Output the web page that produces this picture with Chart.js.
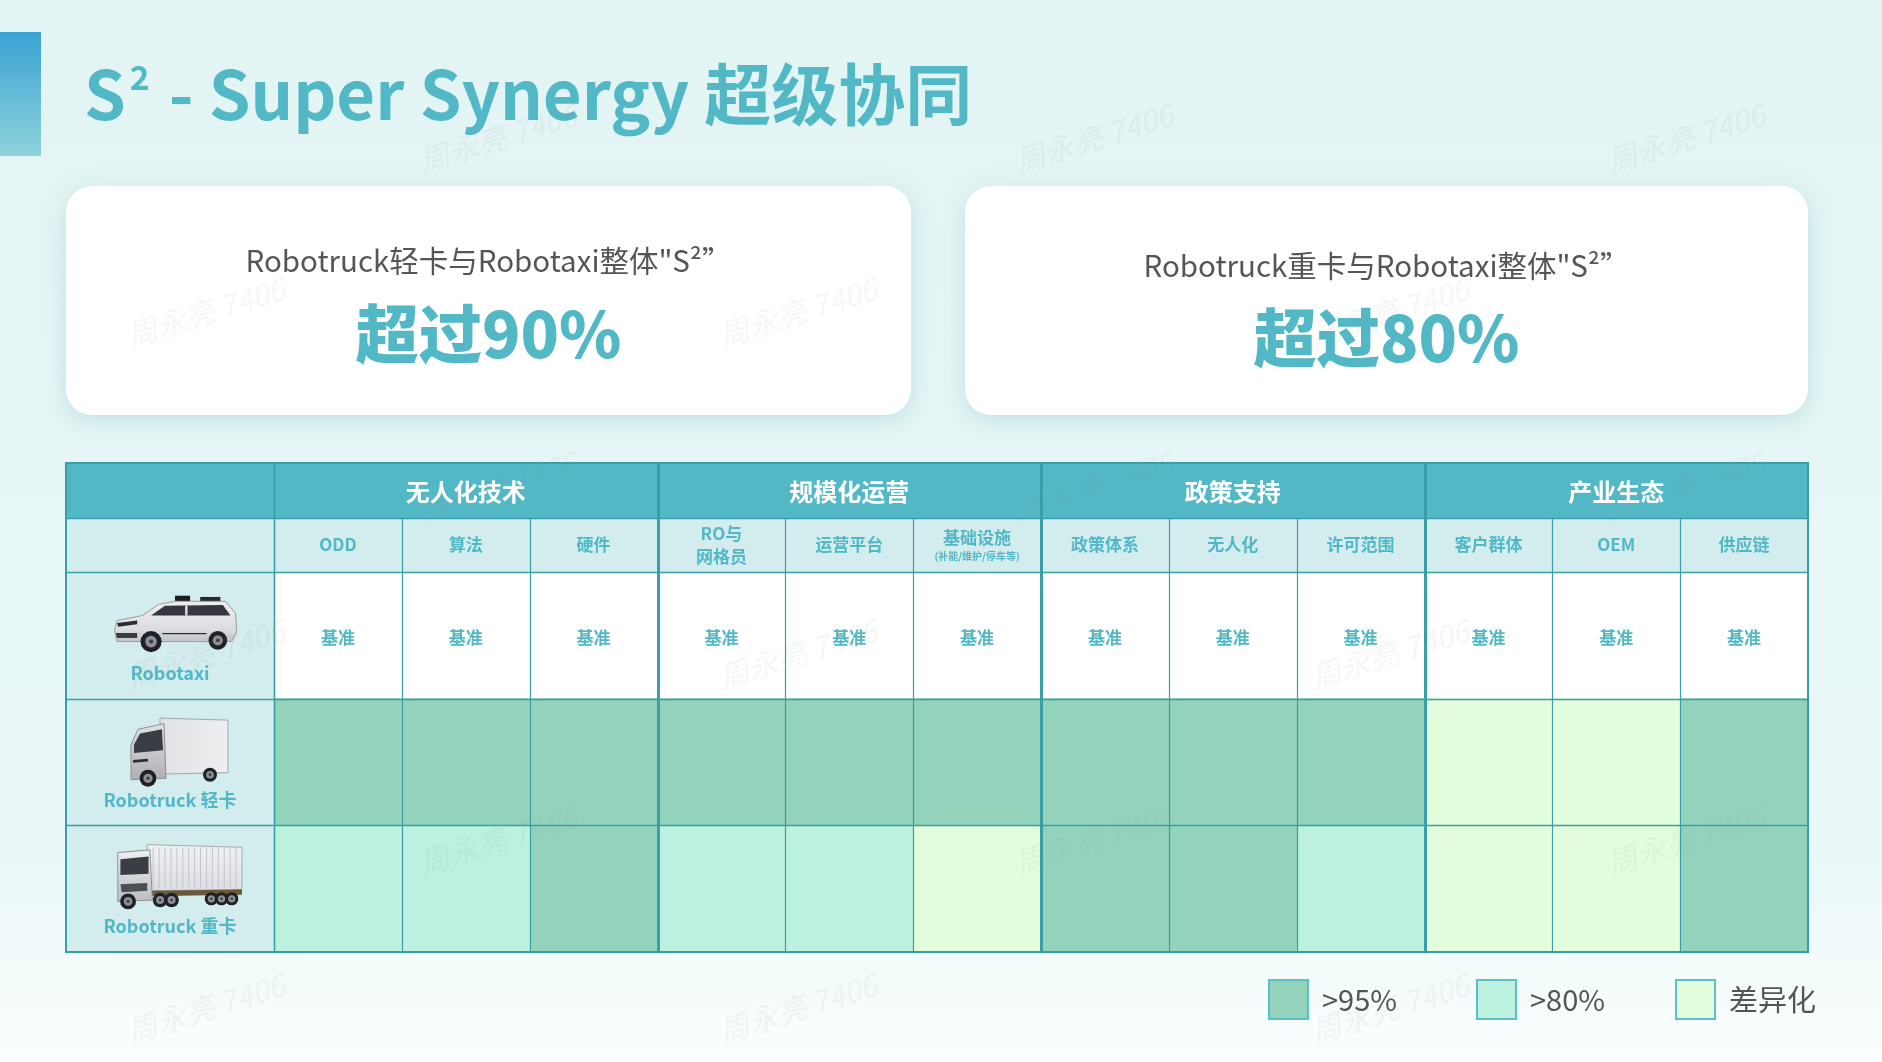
<!DOCTYPE html>
<html>
<head>
<meta charset="utf-8">
<script src="https://cdn.jsdelivr.net/npm/chart.js@4.4.1/dist/chart.umd.min.js"></script>
<style>
  html, body { margin: 0; padding: 0; overflow: hidden; background: #ffffff; }
  canvas { display: block; }
</style>
</head>
<body>
<canvas id="synergyChart" width="1882" height="1062"></canvas>

<script>
  // dados do quadro
  var vehicles = ['Robotaxi', 'Robotruck 轻卡', 'Robotruck 重卡'];
  var groups = ['无人化技术', '规模化运营', '政策支持', '产业生态'];
  var columns = ['ODD', '算法', '硬件', 'RO与|网格员', '运营平台', '基础设施', '政策体系', '无人化', '许可范围', '客户群体', 'OEM', '供应链'];
  var columnNotes = ['', '', '', '', '', '(补能/维护/停车等)', '', '', '', '', '', ''];
  var robotaxiLevels = ['基准', '基准', '基准', '基准', '基准', '基准', '基准', '基准', '基准', '基准', '基准', '基准'];
  var lightTruckLevels = ['>95%', '>95%', '>95%', '>95%', '>95%', '>95%', '>95%', '>95%', '>95%', '差异化', '差异化', '>95%'];
  var heavyTruckLevels = ['>80%', '>80%', '>95%', '>80%', '>80%', '差异化', '>95%', '>95%', '>80%', '差异化', '差异化', '>95%'];
  var legendLabels = ['>95%', '>80%', '差异化'];
  var cardTitles = ['Robotruck轻卡与Robotaxi整体"S²”', 'Robotruck重卡与Robotaxi整体"S²”'];
  var cardValues = ['超过90%', '超过80%'];

  var levelColors = { '基准': '#ffffff', '>95%': '#93d3bc', '>80%': '#bcf0df', '差异化': '#e2fddb' };
  var TEAL = '#52b8c6';
  var LINE = '#3a9ea8';
  var FONT = '"Noto Sans CJK SC", "Noto Sans", sans-serif';
  var rowLevels = [robotaxiLevels, lightTruckLevels, heavyTruckLevels];

  function fitText(ctx, text, weight, size, maxW) {
    ctx.font = weight + ' ' + size + 'px ' + FONT;
    var w = ctx.measureText(text).width;
    if (w > maxW) {
      size = size * maxW / w;
      ctx.font = weight + ' ' + size + 'px ' + FONT;
    }
    return size;
  }

  function roundRect(ctx, x, y, w, h, r) {
    ctx.beginPath();
    ctx.moveTo(x + r, y);
    ctx.arcTo(x + w, y, x + w, y + h, r);
    ctx.arcTo(x + w, y + h, x, y + h, r);
    ctx.arcTo(x, y + h, x, y, r);
    ctx.arcTo(x, y, x + w, y, r);
    ctx.closePath();
  }

  function poly(ctx, x, y, w, h, pts, fill, stroke) {
    ctx.beginPath();
    pts.forEach(function (p, i) {
      var px = x + p[0] * w, py = y + p[1] * h;
      if (i === 0) ctx.moveTo(px, py); else ctx.lineTo(px, py);
    });
    ctx.closePath();
    ctx.fillStyle = fill;
    ctx.fill();
    if (stroke) { ctx.strokeStyle = stroke; ctx.lineWidth = 1; ctx.stroke(); }
  }

  function wheel(ctx, cx, cy, r) {
    ctx.beginPath(); ctx.arc(cx, cy, r, 0, Math.PI * 2); ctx.fillStyle = '#1f2126'; ctx.fill();
    ctx.beginPath(); ctx.arc(cx, cy, r * 0.55, 0, Math.PI * 2); ctx.fillStyle = '#8d9096'; ctx.fill();
    ctx.beginPath(); ctx.arc(cx, cy, r * 0.2, 0, Math.PI * 2); ctx.fillStyle = '#3b3e44'; ctx.fill();
  }

  function drawSUV(ctx, x, y, w, h) {
    var g = ctx.createLinearGradient(0, y, 0, y + h);
    g.addColorStop(0, '#f4f4f6'); g.addColorStop(0.6, '#dcdde1'); g.addColorStop(1, '#a9abb1');
    poly(ctx, x, y, w, h, [[0.5, 0.06], [0.62, 0.06], [0.62, 0.15], [0.5, 0.15]], '#1c1d21');
    poly(ctx, x, y, w, h, [[0.7, 0.08], [0.86, 0.08], [0.86, 0.16], [0.7, 0.16]], '#26282d');
    poly(ctx, x, y, w, h, [[0.02, 0.62], [0.04, 0.46], [0.24, 0.38], [0.37, 0.2], [0.5, 0.15], [0.9, 0.15], [0.98, 0.34], [0.99, 0.64], [0.95, 0.8], [0.04, 0.8]], g, '#9a9ca2');
    poly(ctx, x, y, w, h, [[0.31, 0.38], [0.42, 0.22], [0.88, 0.21], [0.94, 0.38]], '#34373e');
    poly(ctx, x, y, w, h, [[0.58, 0.22], [0.6, 0.22], [0.6, 0.38], [0.58, 0.38]], '#d8d9dc');
    poly(ctx, x, y, w, h, [[0.04, 0.5], [0.2, 0.46], [0.2, 0.52], [0.05, 0.56]], '#2a2c31');
    poly(ctx, x, y, w, h, [[0.03, 0.66], [0.2, 0.66], [0.2, 0.74], [0.04, 0.74]], '#3a3c42');
    poly(ctx, x, y, w, h, [[0.4, 0.66], [0.75, 0.66], [0.75, 0.68], [0.4, 0.68]], '#2b2d32');
    wheel(ctx, x + 0.31 * w, y + 0.8 * h, 0.17 * h);
    wheel(ctx, x + 0.84 * w, y + 0.78 * h, 0.15 * h);
  }

  function drawVan(ctx, x, y, w, h) {
    var g = ctx.createLinearGradient(x, 0, x + w, 0);
    g.addColorStop(0, '#d9dadd'); g.addColorStop(1, '#eeeff1');
    poly(ctx, x, y, w, h, [[0.32, 0.02], [1.0, 0.05], [1.0, 0.8], [0.32, 0.82]], g, '#a4a6ab');
    var c = ctx.createLinearGradient(0, y, 0, y + h);
    c.addColorStop(0, '#e6e7ea'); c.addColorStop(1, '#a7a9ae');
    poly(ctx, x, y, w, h, [[0.03, 0.4], [0.1, 0.18], [0.36, 0.1], [0.38, 0.88], [0.03, 0.9]], c, '#8e9095');
    poly(ctx, x, y, w, h, [[0.06, 0.4], [0.12, 0.24], [0.34, 0.18], [0.35, 0.48], [0.06, 0.52]], '#3a3d44');
    poly(ctx, x, y, w, h, [[0.05, 0.62], [0.2, 0.6], [0.2, 0.64], [0.05, 0.66]], '#2d2f34');
    wheel(ctx, x + 0.2 * w, y + 0.88 * h, 0.12 * h);
    wheel(ctx, x + 0.82 * w, y + 0.83 * h, 0.1 * h);
  }

  function drawSemi(ctx, x, y, w, h) {
    var g = ctx.createLinearGradient(0, y, 0, y + h);
    g.addColorStop(0, '#f1f2f4'); g.addColorStop(1, '#d3d5d9');
    poly(ctx, x, y, w, h, [[0.26, 0.02], [1.0, 0.06], [1.0, 0.7], [0.26, 0.72]], g, '#a8aaaf');
    ctx.strokeStyle = '#c3c5ca'; ctx.lineWidth = 1;
    for (var i = 1; i < 16; i++) {
      var u = 0.26 + i * 0.74 / 16;
      ctx.beginPath(); ctx.moveTo(x + u * w, y + 0.06 * h); ctx.lineTo(x + u * w, y + 0.68 * h); ctx.stroke();
    }
    poly(ctx, x, y, w, h, [[0.26, 0.72], [1.0, 0.7], [1.0, 0.78], [0.26, 0.8]], '#6b5a3a');
    var c = ctx.createLinearGradient(0, y, 0, y + h);
    c.addColorStop(0, '#f6f6f8'); c.addColorStop(1, '#b4b6bb');
    poly(ctx, x, y, w, h, [[0.03, 0.14], [0.28, 0.1], [0.3, 0.86], [0.03, 0.88]], c, '#8e9095');
    poly(ctx, x, y, w, h, [[0.05, 0.24], [0.27, 0.2], [0.27, 0.46], [0.05, 0.48]], '#3a3d44');
    poly(ctx, x, y, w, h, [[0.05, 0.62], [0.26, 0.6], [0.26, 0.72], [0.06, 0.74]], '#4b4e55');
    wheel(ctx, x + 0.11 * w, y + 0.88 * h, 0.12 * h);
    wheel(ctx, x + 0.36 * w, y + 0.86 * h, 0.11 * h);
    wheel(ctx, x + 0.45 * w, y + 0.86 * h, 0.11 * h);
    wheel(ctx, x + 0.76 * w, y + 0.84 * h, 0.1 * h);
    wheel(ctx, x + 0.84 * w, y + 0.84 * h, 0.1 * h);
    wheel(ctx, x + 0.92 * w, y + 0.84 * h, 0.1 * h);
  }

  var slideDecor = {
    id: 'slideDecor',
    beforeDraw: function (chart) {
      var ctx = chart.ctx, W = chart.width, H = chart.height;
      var area = chart.chartArea;
      var xs = chart.scales.x;
      ctx.save();

      // fundo
      var bg = ctx.createLinearGradient(0, 0, 0, H);
      bg.addColorStop(0, '#e3f4f4');
      bg.addColorStop(0.8, '#e9f7f7');
      bg.addColorStop(1, '#fbfefe');
      ctx.fillStyle = bg;
      ctx.fillRect(0, 0, W, H);

      // barra do título
      var bar = ctx.createLinearGradient(0, 32, 0, 156);
      bar.addColorStop(0, '#3aa2d3');
      bar.addColorStop(1, '#8ed3dc');
      ctx.fillStyle = bar;
      ctx.fillRect(0, 32, 41, 124);

      // título (ajustado à largura do original)
      ctx.fillStyle = TEAL;
      ctx.textBaseline = 'alphabetic';
      ctx.textAlign = 'left';
      var rest = ' - Super Synergy 超级协同';
      var ts = 74;
      ctx.font = 'bold ' + ts + 'px ' + FONT;
      var total = ctx.measureText('S' + rest).width + ts * 0.5 * 0.6 + 8;
      ts = ts * 888 / total;
      ctx.font = 'bold ' + ts + 'px ' + FONT;
      ctx.fillText('S', 84, 120);
      var sw = ctx.measureText('S').width;
      ctx.font = 'bold ' + (ts * 0.5) + 'px ' + FONT;
      ctx.fillText('2', 84 + sw + 4, 90);
      var w2 = ctx.measureText('2').width;
      ctx.font = 'bold ' + ts + 'px ' + FONT;
      ctx.fillText(rest, 84 + sw + w2 + 8, 120);

      // cartões
      var cards = [[66, 186, 845, 229], [965, 186, 843, 229]];
      var titleY = [272, 277], valueY = [358, 362];
      cards.forEach(function (c, i) {
        ctx.save();
        ctx.shadowColor = 'rgba(120,190,195,0.35)';
        ctx.shadowBlur = 24;
        ctx.shadowOffsetY = 6;
        roundRect(ctx, c[0], c[1], c[2], c[3], 26);
        ctx.fillStyle = '#ffffff';
        ctx.fill();
        ctx.restore();
        var cx = c[0] + c[2] / 2;
        ctx.textAlign = 'center';
        ctx.fillStyle = '#555555';
        fitText(ctx, cardTitles[i], 'normal', 31, 486);
        ctx.fillText(cardTitles[i], cx, titleY[i]);
        ctx.fillStyle = TEAL;
        fitText(ctx, cardValues[i], '900', 70, 266);
        ctx.fillText(cardValues[i], cx, valueY[i]);
      });

      // cabeçalho da tabela
      var tLeft = 66, tTop = 463, r1 = 518, r2 = 572;
      ctx.fillStyle = TEAL;
      ctx.fillRect(tLeft, tTop, area.right - tLeft, r1 - tTop);
      ctx.fillStyle = '#d3ecee';
      ctx.fillRect(tLeft, r1, area.right - tLeft, r2 - r1);
      ctx.fillRect(tLeft, r2, area.left - tLeft, area.bottom - r2);

      ctx.textAlign = 'center';
      ctx.textBaseline = 'middle';
      ctx.fillStyle = '#ffffff';
      ctx.font = 'bold 24px ' + FONT;
      groups.forEach(function (g, i) {
        var gx = (xs.getPixelForValue(i * 3) + xs.getPixelForValue(i * 3 + 3)) / 2;
        ctx.fillText(g, gx, (tTop + r1) / 2 + 1);
      });

      ctx.fillStyle = TEAL;
      columns.forEach(function (c, i) {
        var cx = (xs.getPixelForValue(i) + xs.getPixelForValue(i + 1)) / 2;
        var lines = c.split('|');
        ctx.font = 'bold 17px ' + FONT;
        if (lines.length > 1) {
          ctx.fillText(lines[0], cx, 534);
          ctx.fillText(lines[1], cx, 557);
        } else if (columnNotes[i]) {
          ctx.fillText(c, cx, 538);
          ctx.font = 'bold 10px ' + FONT;
          ctx.fillText(columnNotes[i], cx, 556);
        } else {
          ctx.fillText(c, cx, (r1 + r2) / 2);
        }
      });
      ctx.restore();
    },
    afterDatasetsDraw: function (chart) {
      var ctx = chart.ctx, area = chart.chartArea;
      var xs = chart.scales.x, ys = chart.scales.y;
      var tLeft = 66, tTop = 463, r1 = 518;
      ctx.save();

      // textos das células
      ctx.textAlign = 'center';
      ctx.textBaseline = 'middle';
      ctx.fillStyle = TEAL;
      ctx.font = 'bold 17px ' + FONT;
      rowLevels.forEach(function (levels, r) {
        levels.forEach(function (lv, i) {
          if (lv === '基准') {
            var cx = (xs.getPixelForValue(i) + xs.getPixelForValue(i + 1)) / 2;
            ctx.fillText(lv, cx, ys.getPixelForValue(r) + 2);
          }
        });
      });

      // veículos e rótulos das linhas
      var rowH = (area.bottom - area.top) / vehicles.length;
      var cx0 = (tLeft + area.left) / 2;
      drawSUV(ctx, 112, area.top + 20, 126, 62);
      drawVan(ctx, 128, area.top + rowH + 18, 100, 70);
      drawSemi(ctx, 114, area.top + rowH * 2 + 18, 128, 66);
      ctx.fillStyle = TEAL;
      ctx.font = 'bold 18px ' + FONT;
      vehicles.forEach(function (v, r) {
        ctx.fillText(v, cx0, area.top + rowH * r + 101);
      });

      // grade
      ctx.strokeStyle = LINE;
      for (var i = 1; i < columns.length; i++) {
        var x = Math.round(xs.getPixelForValue(i)) + 0.5;
        ctx.lineWidth = (i % 3 === 0) ? 3 : 1.2;
        ctx.beginPath();
        ctx.moveTo(x, i % 3 === 0 ? tTop : r1);
        ctx.lineTo(x, area.bottom);
        ctx.stroke();
      }
      ctx.lineWidth = 1.6;
      [r1, area.top].concat([1, 2].map(function (k) { return area.top + rowH * k; })).forEach(function (y) {
        ctx.beginPath();
        ctx.moveTo(tLeft, Math.round(y) + 0.5);
        ctx.lineTo(area.right, Math.round(y) + 0.5);
        ctx.stroke();
      });
      ctx.beginPath();
      ctx.moveTo(area.left + 0.5, tTop);
      ctx.lineTo(area.left + 0.5, area.bottom);
      ctx.stroke();
      ctx.lineWidth = 2;
      ctx.strokeRect(tLeft, tTop, area.right - tLeft, area.bottom - tTop);

      // legenda
      var lx = [1269, 1477, 1676];
      ctx.textAlign = 'left';
      ctx.font = 'normal 29px ' + FONT;
      legendLabels.forEach(function (l, i) {
        ctx.fillStyle = levelColors[l];
        ctx.fillRect(lx[i], 980, 39, 39);
        ctx.strokeStyle = '#5bbfcc';
        ctx.lineWidth = 2;
        ctx.strokeRect(lx[i], 980, 39, 39);
        ctx.fillStyle = '#555555';
        ctx.fillText(l, lx[i] + 53, 1000);
      });

      // marca d'água
      var marks = [[498, 138], [1094, 138], [1686, 138], [206, 312], [798, 312], [1390, 312],
                   [498, 486], [1094, 486], [1686, 486], [206, 654], [798, 654], [1390, 654],
                   [498, 840], [1094, 840], [1686, 840], [206, 1008], [798, 1008], [1390, 1008]];
      ctx.fillStyle = 'rgba(140,150,150,0.09)';
      ctx.font = 'italic 30px ' + FONT;
      ctx.textAlign = 'center';
      marks.forEach(function (m) {
        ctx.save();
        ctx.translate(m[0], m[1]);
        ctx.rotate(-0.3);
        ctx.fillText('周永亮 7406', 0, 0);
        ctx.restore();
      });
      ctx.restore();
    }
  };

  var ctxGrid = document.getElementById('synergyChart').getContext('2d');
  var synergyChart = new Chart(ctxGrid, {
    type: 'bar',
    data: {
      labels: vehicles,
      datasets: columns.map(function (c, i) {
        return {
          label: c.replace('|', ''),
          data: [1, 1, 1],
          backgroundColor: rowLevels.map(function (levels) { return levelColors[levels[i]]; }),
          borderWidth: 0,
          barPercentage: 1,
          categoryPercentage: 1
        };
      })
    },
    options: {
      indexAxis: 'y',
      responsive: false,
      animation: false,
      layout: { padding: { left: 274, right: 74, top: 572, bottom: 110 } },
      scales: {
        x: { type: 'linear', min: 0, max: 12, stacked: true, display: false },
        y: { type: 'category', stacked: true, display: false }
      },
      plugins: {
        legend: { display: false },
        tooltip: { enabled: false }
      }
    },
    plugins: [slideDecor]
  });
</script>
</body>
</html>
